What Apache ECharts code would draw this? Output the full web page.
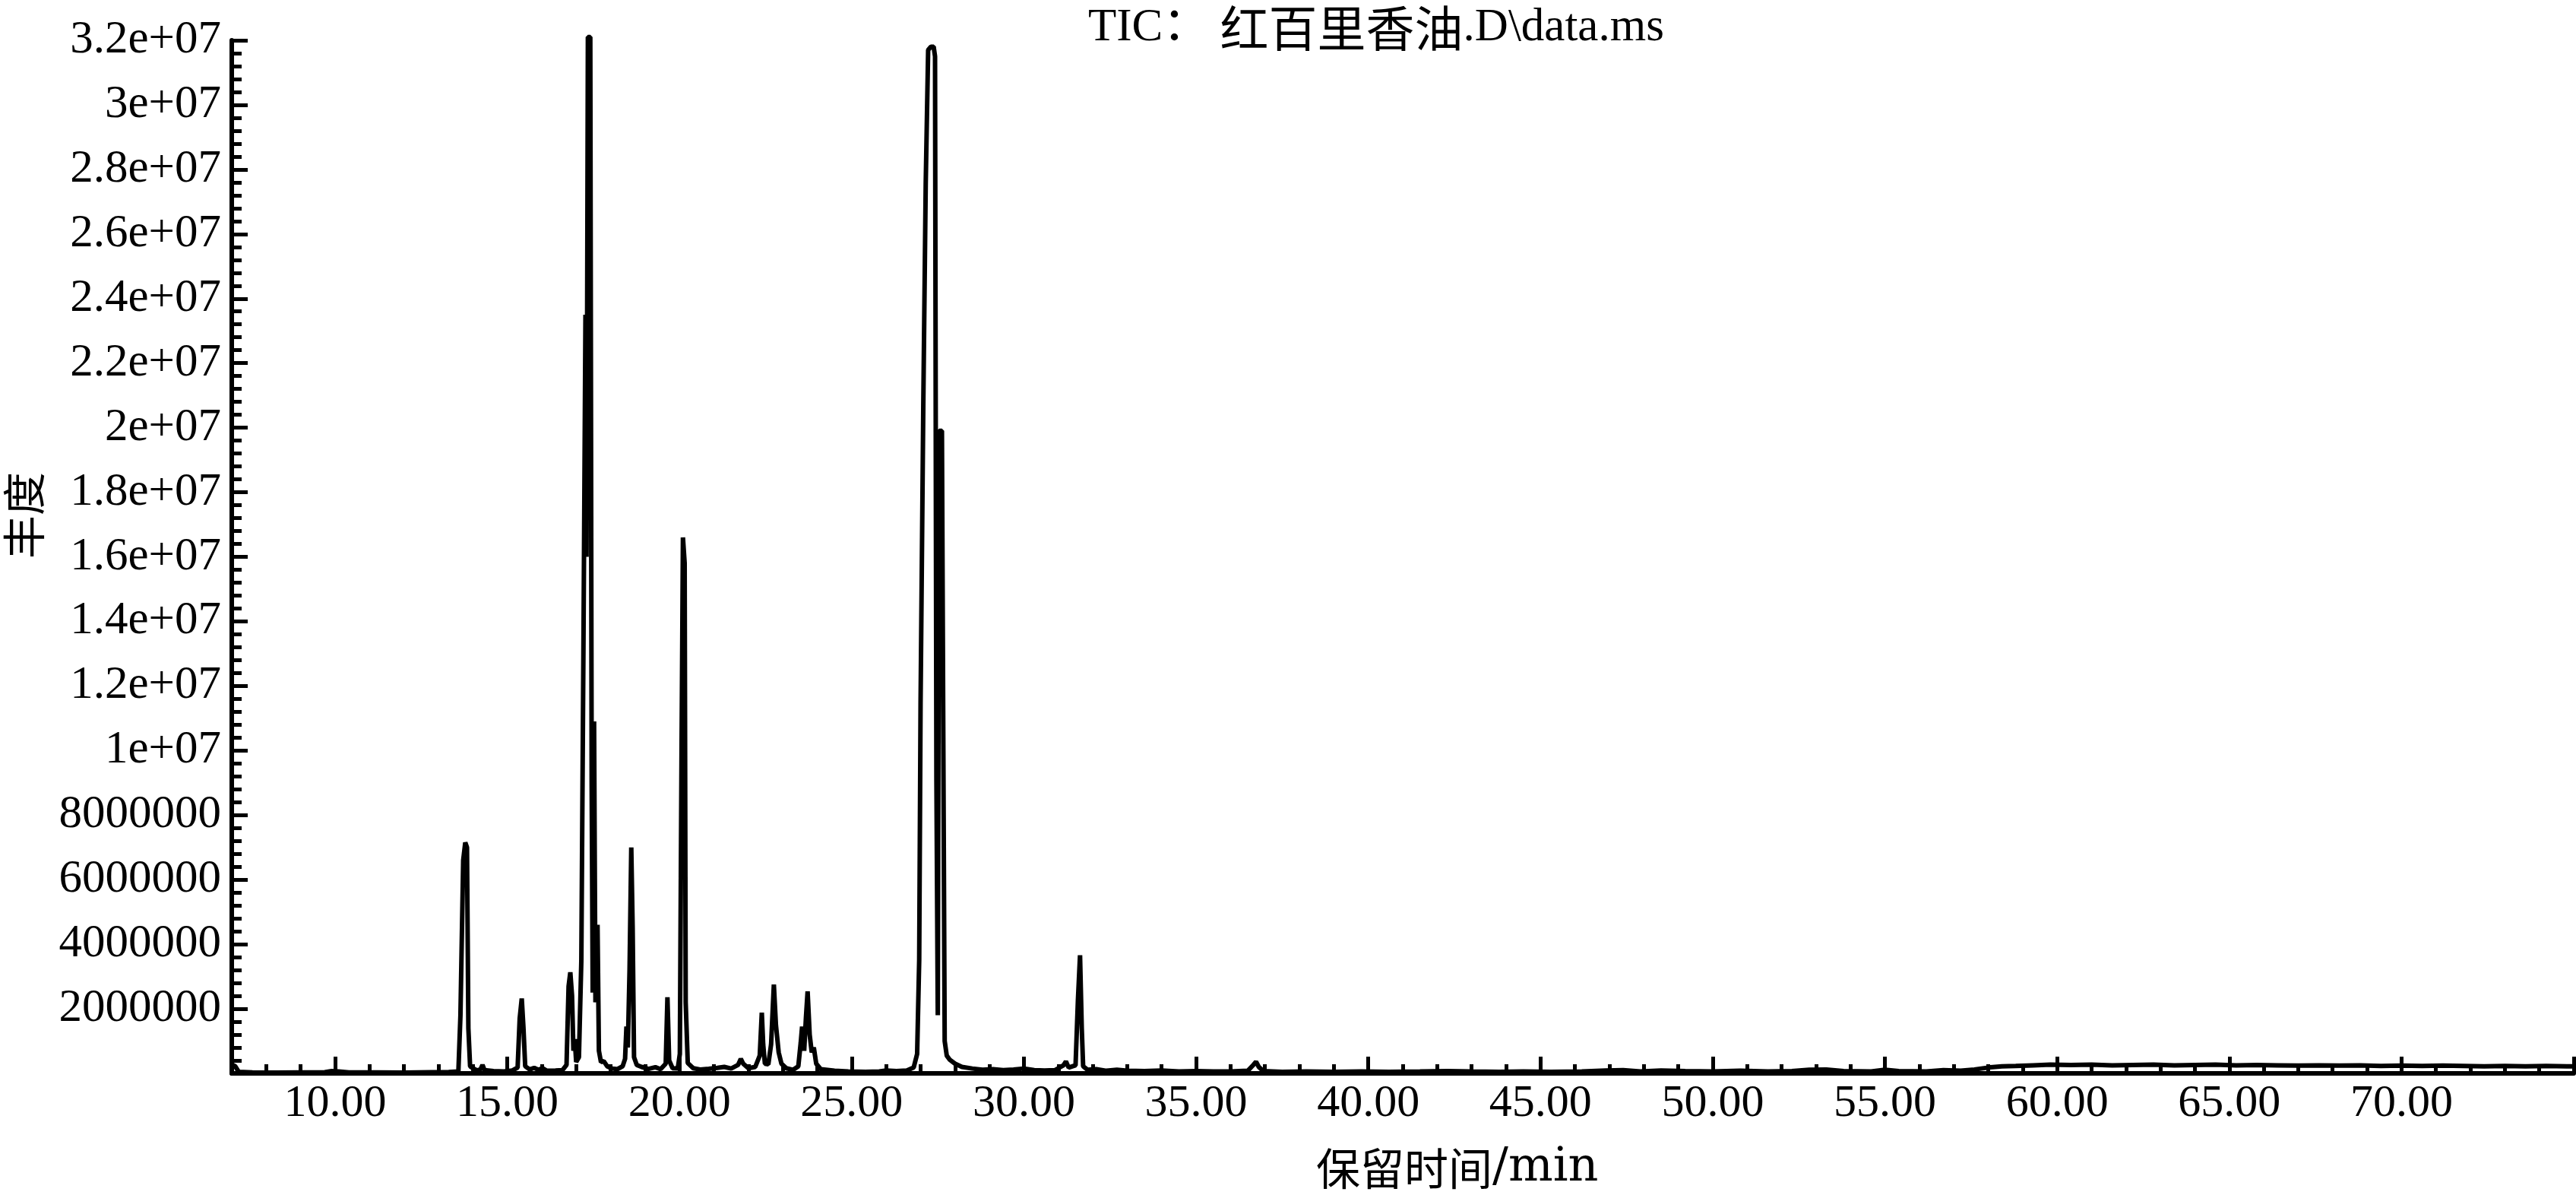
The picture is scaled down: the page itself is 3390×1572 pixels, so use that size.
<!DOCTYPE html>
<html>
<head>
<meta charset="utf-8">
<script src="https://cdn.jsdelivr.net/npm/echarts@6/dist/echarts.min.js"></script>
<style>
html,body{margin:0;padding:0;background:#fff;}
#chart{width:3390px;height:1572px;}
</style>
</head>
<body>
<div id="chart"></div>
<script>
// ---- data ----
const retentionTime = [
7.0,7.1,7.2,7.6,8.3,9.0,9.7,9.9,10.1,10.4,11.2,12.0,12.8,13.3,13.58,13.64,13.72,13.78,13.83,13.87,13.92,
14.02,14.12,14.22,14.28,14.34,14.6,14.9,15.15,15.3,15.36,15.42,15.47,15.52,15.65,15.78,15.9,16.02,16.15,16.4,16.6,
16.72,16.78,16.83,16.88,16.92,16.96,17.0,17.08,17.15,17.21,17.27,17.3,17.34,17.41,17.45,17.48,17.52,17.56,17.62,17.66,
17.72,17.8,17.9,18.05,18.2,18.35,18.42,18.46,18.5,18.55,18.6,18.64,18.68,18.76,18.9,19.1,19.3,19.45,19.6,19.65,19.7,
19.8,19.95,20.01,20.06,20.1,20.15,20.18,20.24,20.4,20.6,20.85,21.1,21.3,21.5,21.7,21.78,21.85,22.0,22.2,22.33,22.39,
22.43,22.48,22.58,22.66,22.74,22.8,22.88,22.96,23.1,23.3,23.45,23.52,23.56,23.62,23.67,23.72,23.78,23.84,23.9,23.97,
24.1,24.5,24.9,25.4,25.8,26.0,26.3,26.6,26.8,26.9,26.96,27.0,27.08,27.15,27.22,27.3,27.38,27.42,27.46,27.5,27.54,27.62,
27.67,27.7,27.76,27.85,28.0,28.2,28.5,28.8,29.1,29.4,29.7,30.0,30.3,30.6,30.9,31.15,31.22,31.3,31.5,31.57,31.63,31.68,
31.72,31.85,32.1,32.4,32.7,33.0,33.5,34.0,34.5,35.0,35.5,36.0,36.5,36.66,36.74,36.82,36.95,37.5,38.2,39.0,39.8,40.6,
41.5,42.3,43.0,43.8,44.5,45.3,46.2,46.9,47.4,47.9,48.5,49.2,50.0,50.8,51.6,52.3,52.8,53.3,53.8,54.6,55.0,55.4,56.2,
56.7,57.2,57.6,58.0,58.4,58.8,59.3,59.8,60.4,61.0,61.6,62.2,62.8,63.4,64.0,64.6,65.2,65.8,66.4,67.0,67.6,68.2,68.8,
69.4,70.0,70.6,71.2,71.8,72.4,73.0,73.6,74.2,74.8,75.0
];
const abundance = [
280000,220000,50000,30000,25000,30000,35000,70000,60000,30000,30000,25000,35000,40000,60000,1800000,6600000,7150000,7000000,1400000,220000,
150000,90000,120000,260000,100000,70000,60000,90000,180000,1700000,2320000,1400000,220000,120000,170000,110000,160000,80000,90000,100000,
260000,2700000,3130000,2400000,700000,1060000,350000,500000,3500000,13000000,23500000,16000000,32100000,32100000,9000000,2500000,10900000,2200000,4600000,700000,
350000,380000,220000,150000,130000,220000,450000,1450000,800000,3200000,7000000,4500000,500000,260000,200000,140000,190000,130000,300000,2360000,400000,
160000,150000,600000,10000000,16600000,15800000,2200000,320000,160000,120000,140000,170000,200000,150000,260000,450000,300000,160000,200000,550000,1880000,
900000,300000,280000,900000,2750000,1500000,650000,300000,160000,110000,220000,950000,1450000,700000,1700000,2540000,1200000,650000,800000,300000,
130000,80000,60000,50000,60000,90000,70000,90000,180000,600000,3500000,11500000,20800000,27600000,31700000,31800000,31800000,31500000,9100000,1800000,19900000,19900000,
8000000,1000000,550000,420000,300000,200000,150000,110000,130000,100000,120000,150000,100000,90000,100000,250000,370000,180000,250000,2300000,3660000,1400000,
220000,110000,130000,80000,110000,80000,70000,90000,60000,70000,60000,60000,80000,260000,360000,200000,70000,50000,60000,50000,60000,50000,
60000,70000,60000,50000,60000,50000,60000,90000,100000,60000,90000,70000,60000,80000,60000,70000,110000,120000,70000,60000,110000,70000,60000,
100000,80000,120000,180000,220000,230000,250000,270000,260000,270000,250000,260000,270000,250000,260000,270000,250000,260000,250000,240000,250000,240000,250000,
230000,240000,230000,240000,230000,220000,230000,220000,230000,220000,220000
];
// tick labels
const xTickMinutes = [];
for (let m = 7; m <= 75; m++) xTickMinutes.push(String(m));
const yTickLabels = ['', '2000000', '4000000', '6000000', '8000000', '1e+07', '1.2e+07', '1.4e+07',
  '1.6e+07', '1.8e+07', '2e+07', '2.2e+07', '2.4e+07', '2.6e+07', '2.8e+07', '3e+07', '3.2e+07'];
const titleParts = ['TIC：', ' 红百里香油', '.D\\data.ms'];
const xAxisTitleParts = ['保留时间', '/min'];
const yAxisTitle = '丰度';

const seriesData = retentionTime.map((t, i) => [t, abundance[i]]);

const SERIF = '"Liberation Serif", "Noto Sans CJK SC", serif';
const CJK = '"Noto Sans CJK SC", sans-serif';
const chart = echarts.init(document.getElementById('chart'), null, {renderer: 'canvas'});
chart.setOption({
  animation: false,
  backgroundColor: '#ffffff',
  title: {
    text: '{lat|' + titleParts[0] + '}{cjk|' + titleParts[1] + '}{lat|' + titleParts[2] + '}',
    left: 1427, top: 0,
    textStyle: {
      fontSize: 61, fontFamily: SERIF, fontWeight: 'normal', color: '#000',
      rich: {
        lat: {fontSize: 61, fontFamily: SERIF, color: '#000'},
        cjk: {fontSize: 64, fontFamily: CJK, color: '#000'}
      }
    }
  },
  grid: {left: 305, right: 3, top: 53, bottom: 160, containLabel: false},
  xAxis: [{
    type: 'value', min: 7, max: 75, interval: 1, position: 'bottom',
    axisLine: {show: true, onZero: false, lineStyle: {color: '#000', width: 6}},
    axisTick: {show: true, inside: true, length: 12, lineStyle: {color: '#000', width: 5}},
    axisLabel: {show: false},
    splitLine: {show: false}
  }, {
    type: 'category', data: xTickMinutes, boundaryGap: false, position: 'bottom',
    axisLine: {show: false},
    axisTick: {show: true, inside: true, length: 22, lineStyle: {color: '#000', width: 5},
      interval: (i, v) => Number(v) % 5 === 0},
    axisLabel: {show: true, margin: 10, fontSize: 60, fontFamily: SERIF, color: '#000',
      interval: (i, v) => Number(v) % 5 === 0 && Number(v) < 75,
      formatter: v => Number(v).toFixed(2)},
    splitLine: {show: false}
  }],
  yAxis: {
    type: 'value', min: 0, max: 32000000, interval: 2000000,
    axisLine: {show: true, lineStyle: {color: '#000', width: 6}},
    axisTick: {show: true, inside: true, length: 21, lineStyle: {color: '#000', width: 5}},
    minorTick: {show: true, splitNumber: 5, length: 13, lineStyle: {color: '#000', width: 5}},
    axisLabel: {show: true, margin: 14, fontSize: 61, fontFamily: SERIF, color: '#000',
      formatter: v => yTickLabels[Math.round(v / 2000000)] || ''},
    splitLine: {show: false}
  },
  graphic: [
    {type: 'text', x: 31, y: 678, rotation: Math.PI / 2,
      style: {text: yAxisTitle, font: '57px "Noto Sans CJK SC"', fill: '#000', textAlign: 'center', textVerticalAlign: 'middle'}},
    {type: 'text', left: 1732, top: 1506,
      style: {
        text: '{c|' + xAxisTitleParts[0] + '}{l|' + xAxisTitleParts[1] + '}',
        rich: {
          c: {fontSize: 58, fontFamily: CJK, fill: '#000'},
          l: {fontSize: 62, fontFamily: '"DejaVu Serif", serif', fill: '#000'}
        }
      }}
  ],
  series: [{
    type: 'line', xAxisIndex: 0, yAxisIndex: 0,
    data: seriesData, showSymbol: false, clip: false,
    lineStyle: {color: '#000', width: 6}
  }]
});
</script>
</body>
</html>
